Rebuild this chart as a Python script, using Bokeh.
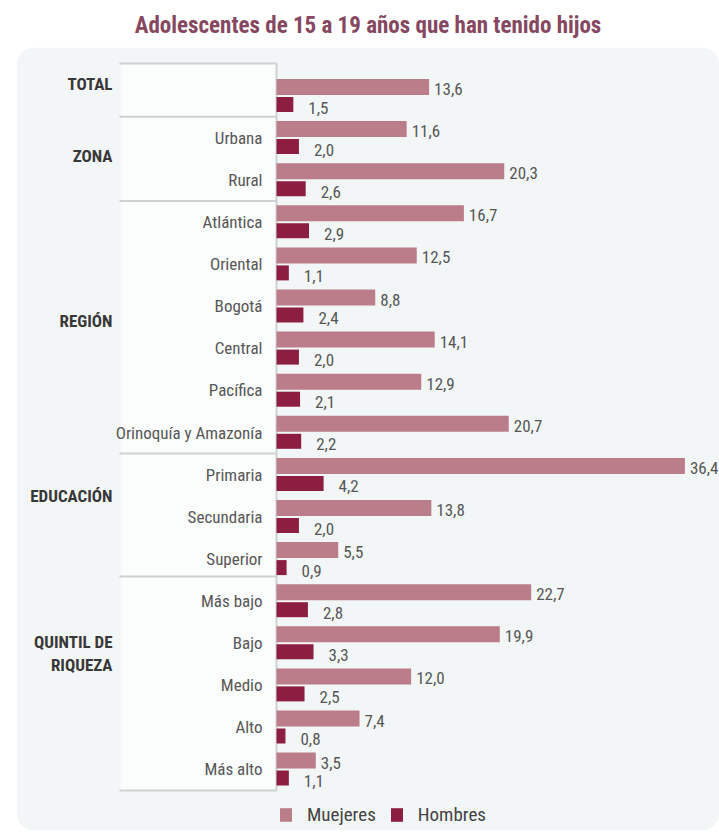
import numpy as np
from bokeh.plotting import figure
from bokeh.models import (ColumnDataSource, Range1d, BoxAnnotation, Legend, LegendItem, Title)
from bokeh.transform import dodge
from bokeh.core.properties import value
from bokeh.embed import file_html
from bokeh.resources import INLINE

# ---------------- data ----------------
categories = ["TOTAL", "Urbana", "Rural", "Atlántica", "Oriental", "Bogotá", "Central",
              "Pacífica", "Orinoquía y Amazonía", "Primaria", "Secundaria", "Superior",
              "Más bajo", "Bajo", "Medio", "Alto", "Más alto"]
category_labels = ["", "Urbana", "Rural", "Atlántica", "Oriental", "Bogotá", "Central",
                   "Pacífica", "Orinoquía y Amazonía", "Primaria", "Secundaria", "Superior",
                   "Más bajo", "Bajo", "Medio", "Alto", "Más alto"]
mujeres = [13.6, 11.6, 20.3, 16.7, 12.5, 8.8, 14.1, 12.9, 20.7, 36.4, 13.8, 5.5,
           22.7, 19.9, 12.0, 7.4, 3.5]
hombres = [1.5, 2.0, 2.6, 2.9, 1.1, 2.4, 2.0, 2.1, 2.2, 4.2, 2.0, 0.9,
           2.8, 3.3, 2.5, 0.8, 1.1]
groups = ["TOTAL", "ZONA", "REGIÓN", "EDUCACIÓN", "QUINTIL DE", "RIQUEZA"]
group_first = ["TOTAL", "Urbana", "Atlántica", "Primaria", "Más bajo", "Más bajo"]
series_names = ["Muejeres", "Hombres"]
title_text = "Adolescentes de 15 a 19 años que han tenido hijos"

# ---------------- style ----------------
FONT = "'Roboto Condensed', 'Liberation Sans Narrow', 'DejaVu Sans Condensed', sans-serif"
C_MUJ = "#bb7d89"
C_HOM = "#8c1e41"
C_TXT = "#575757"
C_LINE = "#cdd1d1"

W, H = 719, 837
FL, FT, FB = 16, 47, 7     # frame borders (page px)
PX_PER_X = 11.22           # px per unit on value axis
ROW_PX = 42.1              # px per row
X0 = 276                   # page x of value zero
ROW0 = 95.25               # page y of first row centre

frame_w = W - FL
frame_h = H - FT - FB
x_start = -(X0 - FL) / PX_PER_X
x_end = (W - X0) / PX_PER_X
y_top = -(ROW0 - FT) / ROW_PX
y_bot = (H - FB - ROW0) / ROW_PX

def px_x(page_x):
    return (page_x - X0) / PX_PER_X

def px_y(page_y):
    return (page_y - ROW0) / ROW_PX

rows = np.arange(len(categories))
src = ColumnDataSource(dict(
    row=rows,
    cat=categories,
    label=category_labels,
    muj=mujeres,
    hom=hombres,
    muj_txt=[f"{v:.1f}".replace(".", ",") for v in mujeres],
    hom_txt=[f"{v:.1f}".replace(".", ",") for v in hombres],
))

p = figure(width=W, height=H, output_backend="svg", toolbar_location=None,
           x_range=Range1d(x_start, x_end), y_range=Range1d(y_bot, y_top),
           min_border_left=FL, min_border_right=0, min_border_top=FT, min_border_bottom=FB)
p.axis.visible = False
p.grid.visible = False
p.outline_line_color = None
p.background_fill_color = "white"
p.border_fill_color = "white"

p.title = Title(text=title_text, align="center", text_font_size="23px",
                text_font=FONT, text_font_style="bold", text_color="#864860", standoff=18)

# panel
p.add_layout(BoxAnnotation(fill_color="#f3f6f6", fill_alpha=1, line_color=None,
                           border_radius=18, level="underlay"))

sep_rows = [px_y(63), 0.5, 2.5, 8.5, 11.42, 16.5]
# label column box
p.quad(left=[px_x(120)], right=[0], top=[sep_rows[0]], bottom=[sep_rows[-1]],
       fill_color="#fbfcfc", line_color=None)
# separators
p.segment(x0=[px_x(119)] * len(sep_rows), x1=[0] * len(sep_rows), y0=sep_rows, y1=sep_rows,
          line_color=C_LINE, line_width=2)
# axis line
p.segment(x0=[0], x1=[0], y0=[sep_rows[0]], y1=[sep_rows[-1]], line_color=C_LINE, line_width=2)

off = 8.75 / ROW_PX
r_m = p.hbar(y=dodge("row", -off), right="muj", left=0, height=16 / ROW_PX, source=src,
             fill_color=C_MUJ, line_color=None)
r_h = p.hbar(y=dodge("row", off), right="hom", left=0, height=15 / ROW_PX, source=src,
             fill_color=C_HOM, line_color=None)

p.text(x="muj", y=dodge("row", -off + 2 / ROW_PX), text="muj_txt", source=src,
       x_offset=5, text_align="left", text_baseline="middle",
       text_font=value(FONT), text_font_size="17px", text_color=C_TXT)
p.text(x="hom", y=dodge("row", off + 3 / ROW_PX), text="hom_txt", source=src,
       x_offset=15, text_align="left", text_baseline="middle",
       text_font=value(FONT), text_font_size="17px", text_color=C_TXT)

# category labels
p.text(x=0, y="row", text="label", source=src, x_offset=-14, text_align="right",
       text_baseline="middle", text_font=value(FONT), text_font_size="17px", text_color=C_TXT)

# group labels
g_shift = [-0.27, 0.43, 2.36, 0.5, 0.97, 1.52]
g_y = [categories.index(f) + s for f, s in zip(group_first, g_shift)]
p.text(x=[0] * len(groups), y=g_y, text=groups, x_offset=-164, text_align="right",
       text_baseline="middle", text_font=value(FONT), text_font_size="17px",
       text_font_style="bold", text_color="#383838")

legend = Legend(items=[LegendItem(label=series_names[0], renderers=[r_m]),
                       LegendItem(label=series_names[1], renderers=[r_h])],
                orientation="horizontal", location=(278 - FL, 830 - 826),
                glyph_width=15, glyph_height=17, label_standoff=14, spacing=13,
                padding=0, margin=0, background_fill_alpha=0, border_line_alpha=0,
                label_text_font=FONT, label_text_font_size="19px", label_text_color="#444444")
p.add_layout(legend)

open("out.html", "w").write(file_html(p, INLINE))
